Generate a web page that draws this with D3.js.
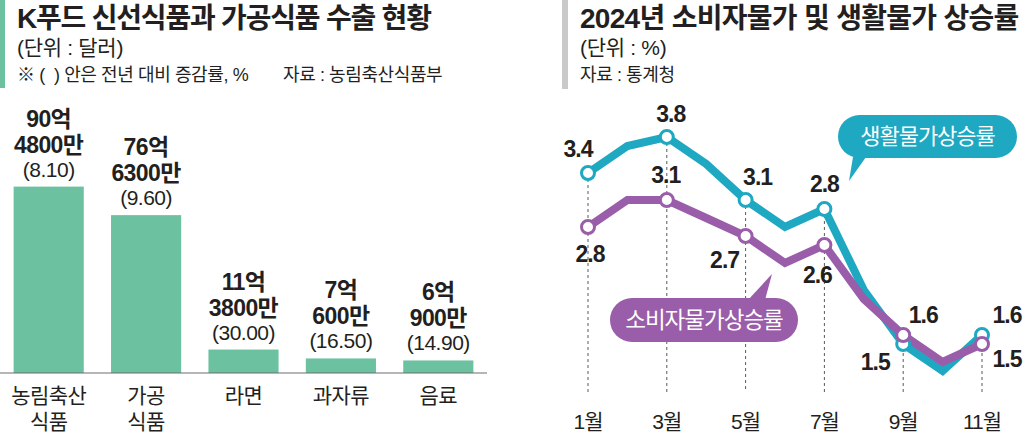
<!DOCTYPE html>
<html>
<head>
<meta charset="utf-8">
<script src="https://cdn.jsdelivr.net/npm/d3@7"></script>
<style>
    body { margin: 0; background: #fff; }
    svg text { font-family: "Liberation Sans", "Noto Sans CJK KR", sans-serif; fill: #231f20; }
    .title { font-size: 28px; font-weight: 700; letter-spacing: -1.2px; }
    .unit { font-size: 21px; letter-spacing: -0.3px; }
    .note { font-size: 18px; letter-spacing: -0.4px; }
</style>
</head>
<body>
<script>
//bar chart data (export, in 억 달러)
var categories = ["농림축산식품", "가공식품", "라면", "과자류", "음료"];
var categoryLines = [["농림축산", "식품"], ["가공", "식품"], ["라면"], ["과자류"], ["음료"]];
var exportValues = [90.48, 76.63, 11.38, 7.06, 6.09];
var exportText = [["90억", "4800만"], ["76억", "6300만"], ["11억", "3800만"], ["7억", "600만"], ["6억", "900만"]];
var growthText = ["8.10", "9.60", "30.00", "16.50", "14.90"];

//line chart data (monthly 2024, %)
var months = [1, 2, 3, 4, 5, 6, 7, 8, 9, 10, 11];
var monthTicks = [1, 3, 5, 7, 9, 11];
var livingRate = [3.4, 3.7, 3.8, 3.5, 3.1, 2.8, 3.0, 2.1, 1.5, 1.2, 1.6];
var cpiRate = [2.8, 3.1, 3.1, 2.9, 2.7, 2.4, 2.6, 2.0, 1.6, 1.3, 1.5];
var livingLabels = ["3.4", "3.8", "3.1", "2.8", "1.5", "1.6"];
var cpiLabels = ["2.8", "3.1", "2.7", "2.6", "1.6", "1.5"];

var teal = "#1ea8c2",
    purple = "#9a5da9",
    green = "#6cc1a1";

window.onload = setChart();

function setChart(){
    var width = 1024,
        height = 437;

    var svg = d3.select("body")
        .append("svg")
        .attr("width", width)
        .attr("height", height);

    drawHeaders(svg);
    drawBars(svg);
    drawLines(svg);
};

function drawHeaders(svg){
    //accent bars next to the titles
    svg.append("rect").attr("x", 0).attr("y", 0).attr("width", 5).attr("height", 88).attr("fill", green);
    svg.append("rect").attr("x", 562).attr("y", 0).attr("width", 6).attr("height", 89).attr("fill", "#c9c9c9");

    svg.append("text").attr("class", "title").attr("x", 17).attr("y", 28).text("K푸드 신선식품과 가공식품 수출 현황");
    svg.append("text").attr("class", "unit").attr("x", 17).attr("y", 55).text("(단위 : 달러)");
    svg.append("text").attr("class", "note").attr("x", 17).attr("y", 81).text("※ (\u00a0\u00a0) 안은 전년 대비 증감률, %");
    svg.append("text").attr("class", "note").attr("x", 283).attr("y", 81).text("자료 : 농림축산식품부");

    svg.append("text").attr("class", "title").attr("x", 580).attr("y", 28)
        .style("letter-spacing", "-0.7px")
        .text("2024년 소비자물가 및 생활물가 상승률");
    svg.append("text").attr("class", "unit").attr("x", 580).attr("y", 55).text("(단위 : %)");
    svg.append("text").attr("class", "note").attr("x", 580).attr("y", 81).text("자료 : 통계청");
};

function drawBars(svg){
    var x = d3.scaleBand()
        .domain(categories)
        .range([0, 487])
        .paddingInner(0.28)
        .paddingOuter(0.14);

    var y = d3.scaleLinear()
        .domain([0, 100])
        .range([373, 167]);

    var g = svg.append("g").attr("class", "bars");

    g.selectAll(".bar")
        .data(categories)
        .enter()
        .append("rect")
        .attr("class", "bar")
        .attr("x", function(d){ return x(d); })
        .attr("y", function(d, i){ return y(exportValues[i]); })
        .attr("width", x.bandwidth())
        .attr("height", function(d, i){ return y(0) - y(exportValues[i]); })
        .attr("fill", green);

    //baseline
    g.append("line")
        .attr("x1", 0).attr("x2", 487)
        .attr("y1", y(0)).attr("y2", y(0))
        .attr("stroke", "#6d6e71")
        .attr("stroke-width", 1.2);

    //value labels above each bar
    categories.forEach(function(c, i){
        var cx = x(c) + x.bandwidth() / 2,
            top = y(exportValues[i]);
        var lbl = g.append("text").attr("text-anchor", "middle");
        lbl.append("tspan").attr("x", cx).attr("y", top - 60)
            .style("font-size", "23px").style("font-weight", 700).style("letter-spacing", "-0.6px")
            .text(exportText[i][0]);
        lbl.append("tspan").attr("x", cx).attr("y", top - 34)
            .style("font-size", "23px").style("font-weight", 700).style("letter-spacing", "-0.6px")
            .text(exportText[i][1]);
        lbl.append("tspan").attr("x", cx).attr("y", top - 10)
            .style("font-size", "21px").style("letter-spacing", "-0.5px")
            .text("(" + growthText[i] + ")");

        //category names under the axis
        categoryLines[i].forEach(function(line, j){
            g.append("text")
                .attr("x", cx)
                .attr("y", 403 + j * 26)
                .attr("text-anchor", "middle")
                .style("font-size", "21px")
                .style("letter-spacing", "-0.6px")
                .text(line);
        });
    });
};

function drawLines(svg){
    var x = d3.scaleLinear()
        .domain([1, 11])
        .range([588, 982]);

    var y = d3.scaleLinear()
        .domain([0, 4])
        .range([479, 119]);

    var g = svg.append("g").attr("class", "lines");

    //dashed guides at odd months
    g.selectAll(".guide")
        .data(monthTicks)
        .enter()
        .append("line")
        .attr("class", "guide")
        .attr("x1", function(d){ return x(d); })
        .attr("x2", function(d){ return x(d); })
        .attr("y1", function(d){ return y(Math.max(livingRate[d - 1], cpiRate[d - 1])); })
        .attr("y2", 392)
        .attr("stroke", "#58595b")
        .attr("stroke-width", 1)
        .attr("stroke-dasharray", "3,3");

    //month labels
    g.selectAll(".month")
        .data(monthTicks)
        .enter()
        .append("text")
        .attr("class", "month")
        .attr("x", function(d){ return x(d); })
        .attr("y", 429)
        .attr("text-anchor", "middle")
        .style("font-size", "21px")
        .style("letter-spacing", "-1px")
        .text(function(d){ return d + "월"; });

    var line = d3.line()
        .x(function(d, i){ return x(months[i]); })
        .y(function(d){ return y(d); });

    g.append("path").datum(livingRate)
        .attr("d", line).attr("fill", "none")
        .attr("stroke", teal).attr("stroke-width", 8).attr("stroke-linejoin", "miter");
    g.append("path").datum(cpiRate)
        .attr("d", line).attr("fill", "none")
        .attr("stroke", purple).attr("stroke-width", 8).attr("stroke-linejoin", "miter");

    //markers on odd months
    [[livingRate, teal], [cpiRate, purple]].forEach(function(s){
        g.selectAll(null)
            .data(monthTicks)
            .enter()
            .append("circle")
            .attr("cx", function(d){ return x(d); })
            .attr("cy", function(d){ return y(s[0][d - 1]); })
            .attr("r", 6.5)
            .attr("fill", "#fff")
            .attr("stroke", s[1])
            .attr("stroke-width", 3);
    });

    //value label offsets [dx, dy] from each marker
    var livingOffsets = [[-10, -16], [4, -15], [12, -15], [0, -17], [-28, 26], [25, -12]];
    var cpiOffsets = [[2, 35], [-1, -17], [-21, 32], [-7, 38], [20, -12], [25, 23]];

    [[livingRate, livingLabels, livingOffsets], [cpiRate, cpiLabels, cpiOffsets]].forEach(function(s){
        g.selectAll(null)
            .data(monthTicks)
            .enter()
            .append("text")
            .attr("x", function(d, i){ return x(d) + s[2][i][0]; })
            .attr("y", function(d, i){ return y(s[0][d - 1]) + s[2][i][1]; })
            .attr("text-anchor", "middle")
            .style("font-size", "23px")
            .style("font-weight", 700)
            .style("letter-spacing", "-1px")
            .text(function(d, i){ return s[1][i]; });
    });

    //callout legends
    callout(g, 838, 115, 179, 43, [[853, 157], [866, 157], [849, 181]], teal, "생활물가상승률", 22);
    callout(g, 610, 298, 188, 44, [[748, 300], [765, 300], [772, 274]], purple, "소비자물가상승률", 22.5);
};

function callout(g, x0, y0, w, h, tail, color, label, size){
    g.append("rect")
        .attr("x", x0).attr("y", y0)
        .attr("width", w).attr("height", h)
        .attr("rx", h / 2)
        .attr("fill", color);
    g.append("path")
        .attr("d", "M" + tail.join("L") + "Z")
        .attr("fill", color);
    g.append("text")
        .attr("x", x0 + w / 2)
        .attr("y", y0 + h / 2 + size * 0.36)
        .attr("text-anchor", "middle")
        .style("font-size", size + "px")
        .style("letter-spacing", "-1px")
        .style("fill", "#fff")
        .text(label);
};
</script>
</body>
</html>
